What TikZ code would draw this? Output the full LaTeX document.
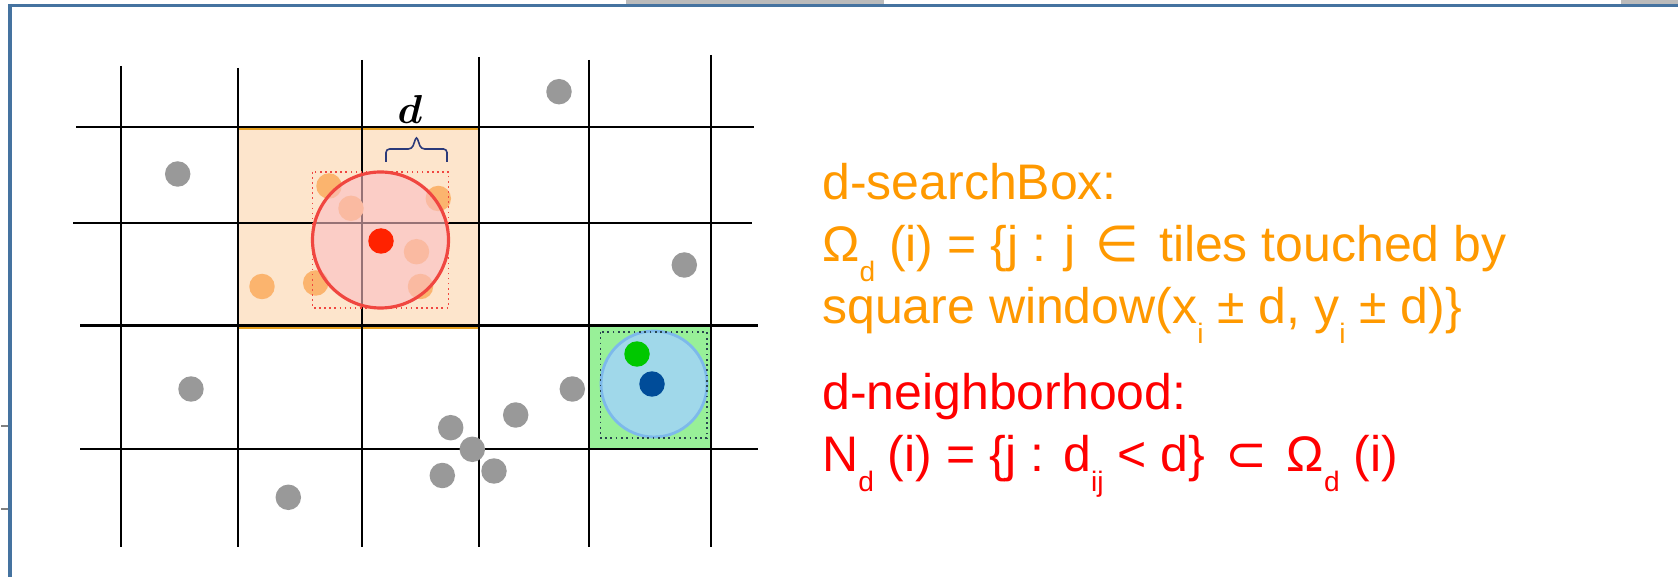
\RequirePackage{fix-cm}
\documentclass[tikz,border=0pt]{standalone}
\usepackage{fontspec}
\setmainfont{Liberation Sans}
\newfontfamily\symf{DejaVu Sans}
\usetikzlibrary{positioning}

\definecolor{frameblue}{RGB}{69,115,160}
\definecolor{stripgray}{RGB}{187,187,187}
\definecolor{peach}{RGB}{253,229,204}
\definecolor{boxgold}{RGB}{230,160,30}
\definecolor{dotgray}{RGB}{153,153,153}
\definecolor{dotorange}{RGB}{251,180,110}
\definecolor{ringred}{RGB}{240,70,64}
\definecolor{ringpink}{RGB}{250,190,195}
\definecolor{centerred}{RGB}{255,34,0}
\definecolor{tilegreen}{RGB}{152,240,152}
\definecolor{ringblue}{RGB}{125,185,235}
\definecolor{skyfill}{RGB}{160,216,234}
\definecolor{dotgreen}{RGB}{0,200,0}
\definecolor{dotnavy}{RGB}{0,76,153}
\definecolor{bracenavy}{RGB}{43,58,122}
\definecolor{squaredark}{RGB}{40,70,80}
\definecolor{txtorange}{RGB}{255,153,0}
\definecolor{txtred}{RGB}{255,0,0}

\newcommand{\lowsub}[1]{\raisebox{-0.40em}{\fontsize{16pt}{16pt}\selectfont #1}}
\newcommand{\relsym}[1]{\hspace{0.12em}{\symf #1}\hspace{0.12em}}

\begin{document}
\begin{tikzpicture}[x=0.02cm, y=-0.02cm,
    gridline/.style={line width=1.4pt, black},
    dot/.style={circle, inner sep=0pt, minimum size=0.51cm},
    graydot/.style={dot, fill=dotgray},
    orangedot/.style={dot, fill=dotorange},
    dlabel/.style={anchor=base, inner sep=0pt, font=\fontsize{23pt}{23pt}\selectfont\boldmath},
    txt/.style={anchor=base west, inner sep=0pt, font=\fontsize{28.45pt}{34pt}\selectfont},
    searchtxt/.style={txt, text=txtorange},
    neightxt/.style={txt, text=txtred}
  ]
  \useasboundingbox (0,0) rectangle (1678,577);

  % slide frame
  \fill[stripgray] (626,0) rectangle (884,4);
  \fill[stripgray] (1621,0) rectangle (1678,4);
  \draw[frameblue, line width=2pt] (8,5.5) -- (1678,5.5);
  \draw[frameblue, line width=2pt] (10,4) -- (10,577);
  \foreach \y in {426,509}
    \draw[gray, line width=0.8pt] (1,\y) -- (8,\y);

  % tiles
  \fill[peach] (238,127) rectangle (479,325.5);
  \draw[boxgold, line width=1.2pt] (238,129) -- (479,129);
  \draw[boxgold, line width=1.2pt] (238,327.5) -- (479,327.5);
  \fill[tilegreen] (589,325.5) rectangle (711,449);

  % grid
  \foreach \x/\t in {121/66,238/68,362/60,479/57,589/60,711/55}
    \draw[gridline] (\x,\t) -- (\x,547);
  \foreach \y/\l/\r in {127/76/754,223/73/752,325.5/80/758,449/80/758}
    \draw[gridline] (\l,\y) -- (\r,\y);

  % points
  \foreach \x/\y [count=\i] in {177.7/174,559/91.7,684.3/265,191/389,288.3/497.3,450.7/427.7,472.3/449.3,442.3/475.5,494/471,515.7/415,572.3/389}
    \node[graydot] (g\i) at (\x,\y) {};
  \foreach \x/\y [count=\i] in {329/186,351/208.3,438.3/198.5,416.5/251.7,262/286.5,315.7/283,420.5/286.5}
    \node[orangedot] (o\i) at (\x,\y) {};

  % d-neighborhood of the red point
  \draw[ringred, line width=1.8pt, fill=ringpink, fill opacity=0.6] (380.5,240) circle[radius=68];
  \draw[ringred, line width=0.9pt, dotted] (312.5,172) rectangle (448.5,308);
  \node[dot, fill=centerred] (ctr) at (381,241) {};
  \draw[bracenavy, line width=0.9pt, rounded corners=2pt] (386,162) -- (386,149) -- (412,149) -- (416.5,136) -- (421,149) -- (447,149) -- (447,162);
  \node[dlabel] (dlab) at (410,124) {$d$};

  % d-neighborhood of the blue point
  \draw[ringblue, line width=1.6pt, fill=skyfill] (654,384) circle[radius=53];
  \draw[squaredark, line width=1pt, dotted] (600.5,332) rectangle (707,438);
  \node[dot, fill=dotgreen] (nb) at (637,354) {};
  \node[dot, fill=dotnavy] (pt) at (652,384) {};

  % legend
  \node[searchtxt] (sb1) at (822,200) {d-searchBox:};
  \node[searchtxt] (sb2) at (822,262) {Ω\lowsub{d} (i) = \{j : j \relsym{∈} tiles touched by};
  \node[searchtxt] (sb3) at (822,324) {square window(x\lowsub{i} ± d, y\lowsub{i} ± d)\}};
  \node[neightxt] (nh1) at (822,410) {d-neighborhood:};
  \node[neightxt] (nh2) at (822,472) {N\lowsub{d} (i) = \{j : d\lowsub{ij} < d\} \relsym{⊂} Ω\lowsub{d} (i)};
\end{tikzpicture}
\end{document}
